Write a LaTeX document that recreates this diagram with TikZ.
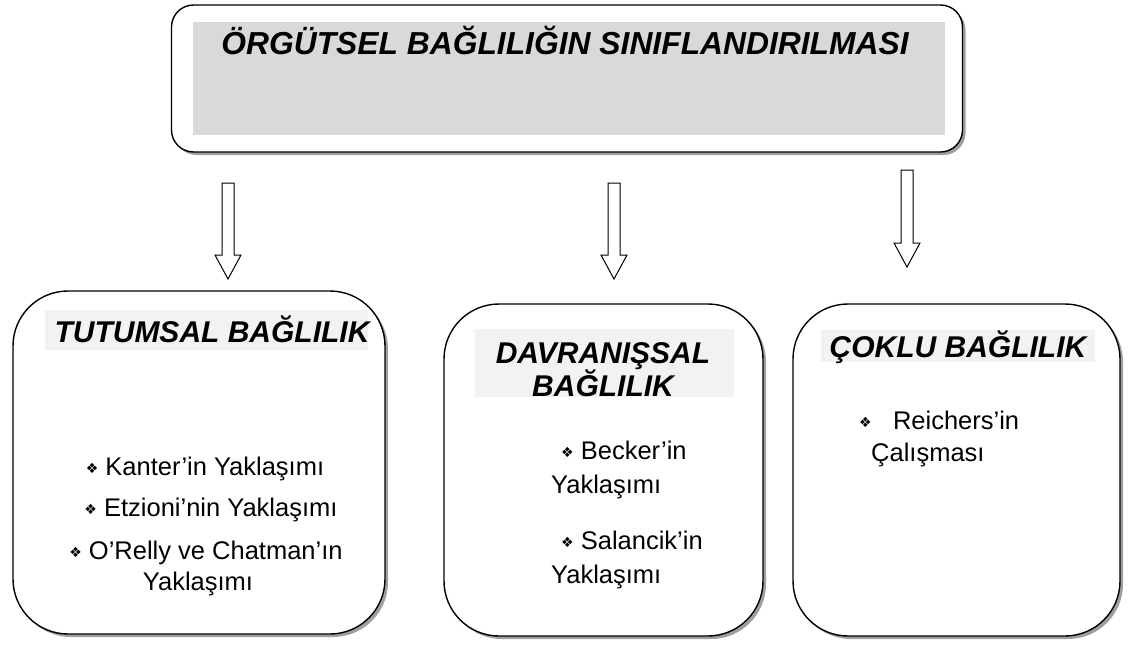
\documentclass[tikz,border=0pt]{standalone}
\usepackage{fontspec}
\setmainfont{Liberation Sans}
\newfontfamily\dejavu{DejaVu Sans}
\usetikzlibrary{shadows}
\tikzset{
  x=1pt, y=-1pt,
  bigbox/.style={draw=black, line width=1.4pt, fill=white, rounded corners=#1,
    drop shadow={shadow xshift=3pt, shadow yshift=-3pt, fill=gray!75, opacity=1}},
  titlebar/.style={fill=black!15, draw=none},
  headbar/.style={fill=black!5, draw=none},
  headtext/.style={font=\fontsize{30}{34}\selectfont\bfseries\itshape, inner sep=0pt, anchor=base},
  bodytext/.style={font=\fontsize{25.5}{30}\selectfont, inner sep=0pt, anchor=base west},
  bodycenter/.style={font=\fontsize{25.5}{30}\selectfont, inner sep=0pt, anchor=base},
  blockarrow/.style={draw=black, line width=1pt, fill=white},
}
\newcommand{\bul}{{\dejavu\fontsize{14}{14}\selectfont\raisebox{1.5pt}{❖}}}
\newcommand{\dnarrow}[4]{% name, cx, top, tip
  \draw[blockarrow] (#2-6,#3) -- (#2+6,#3) -- (#2+6,#4-24) -- (#2+13,#4-24)
     -- (#2,#4) coordinate (#1) -- (#2-13,#4-24) -- (#2-6,#4-24) -- cycle;}
\begin{document}
\begin{tikzpicture}
\useasboundingbox (0,0) rectangle (1131,653);
% top box
\node[bigbox=22pt, minimum width=791pt, minimum height=147pt, inner sep=0pt] (top) at (567,78.5) {};
\node[titlebar, minimum width=752pt, minimum height=113pt, inner sep=0pt] (topbar) at (569,78.5) {};
\node[headtext, font=\fontsize{31.8}{34}\selectfont\bfseries\itshape] (title) at (565,54) {ÖRGÜTSEL BAĞLILIĞIN SINIFLANDIRILMASI};
% arrows
\dnarrow{a1}{228}{183}{279}
\dnarrow{a2}{614}{183}{279}
\dnarrow{a3}{907}{170}{267}
% box 1
\node[bigbox=55pt, minimum width=372pt, minimum height=343pt, inner sep=0pt] (b1) at (199,462.5) {};
\node[headbar, minimum width=323pt, minimum height=40pt, inner sep=0pt] (h1bar) at (206.5,330) {};
\node[headtext] (h1) at (212,342) {TUTUMSAL BAĞLILIK};
\node[bodycenter] (k1) at (205,475) {\bul\ Kanter’in Yaklaşımı};
\node[bodycenter] (k2) at (211,516) {\bul\ Etzioni’nin Yaklaşımı};
\node[bodycenter] (k3) at (206,559) {\bul\ O’Relly ve Chatman’ın};
\node[bodycenter] (k4) at (198,590) {Yaklaşımı};
% box 2
\node[bigbox=55pt, minimum width=319pt, minimum height=332pt, inner sep=0pt] (b2) at (603.5,470) {};
\node[headbar, minimum width=259pt, minimum height=68pt, inner sep=0pt] (h2bar) at (604.5,363) {};
\node[headtext] (h2a) at (603,363) {DAVRANIŞSAL};
\node[headtext] (h2b) at (603,396) {BAĞLILIK};
\node[bodytext] (d1) at (561,459) {\bul\ Becker’in};
\node[bodytext] (d2) at (551,493) {Yaklaşımı};
\node[bodytext] (d3) at (561,549) {\bul\ Salancik’in};
\node[bodytext] (d4) at (551,583) {Yaklaşımı};
% box 3
\node[bigbox=55pt, minimum width=327pt, minimum height=332pt, inner sep=0pt] (b3) at (956.5,470) {};
\node[headbar, minimum width=274pt, minimum height=32pt, inner sep=0pt] (h3bar) at (958,346) {};
\node[headtext] (h3) at (958,357) {ÇOKLU BAĞLILIK};
\node[bodytext] (c1) at (859,429) {\bul\ \ \ Reichers’in};
\node[bodytext] (c2) at (871,461) {Çalışması};
\end{tikzpicture}
\end{document}
